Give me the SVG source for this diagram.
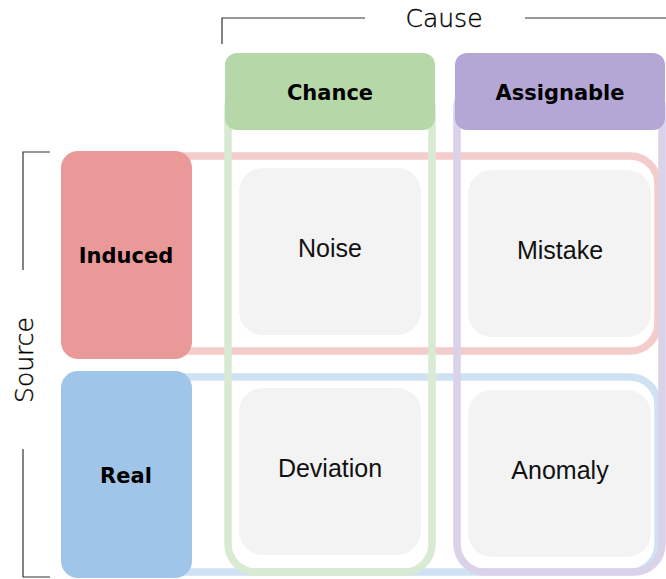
<svg xmlns="http://www.w3.org/2000/svg" width="666" height="579" viewBox="0 0 666 579">
<style>
.bracket{fill:none;stroke:#333;stroke-width:1.2}
.axis{font-family:"DejaVu Sans","Open Sans",sans-serif;font-weight:300;font-size:25px;fill:#000;stroke:#000;stroke-width:0.35;text-anchor:middle}
.hdr{font-family:"DejaVu Sans","Noto Sans",sans-serif;font-weight:bold;font-size:21px;fill:#000;text-anchor:middle}
.cell{fill:#f3f3f3}
.cellt{font-family:"Liberation Sans",Arial,sans-serif;font-size:25px;fill:#111;text-anchor:middle}
.ol{fill:none;stroke-width:7.5}
</style>
<rect width="666" height="579" fill="#ffffff"/>
<g id="axes">
  <path class="bracket" d="M222,44 V18 H365 M525,18 H666"/>
  <text class="axis" x="444" y="27">Cause</text>
  <path class="bracket" d="M50,152 H23 V270 M23,449 V577 H50"/>
  <text class="axis" transform="translate(33,360) rotate(-90)" x="0" y="0">Source</text>
</g>
<g id="connectors">
  <rect class="ol" x="110" y="156" width="548" height="195" rx="28" stroke="#f4cccc"/>
  <rect class="ol" x="110" y="377" width="548" height="195" rx="28" stroke="#cfe2f3"/>
  <rect class="ol" x="228" y="80" width="204" height="492" rx="28" stroke="#d9ead3"/>
  <rect class="ol" x="457" y="80" width="205" height="492" rx="28" stroke="#d9d2e9"/>
</g>
<g id="chance">
  <rect x="225" y="53" width="210" height="77" rx="12" fill="#b6d7a8"/>
  <text class="hdr" x="330" y="100">Chance</text>
</g>
<g id="assignable">
  <rect x="455" y="53" width="210" height="77" rx="12" fill="#b4a7d6"/>
  <text class="hdr" x="560" y="100">Assignable</text>
</g>
<g id="induced">
  <rect x="61" y="151" width="131" height="208" rx="17" fill="#ea9999"/>
  <text class="hdr" x="126" y="263">Induced</text>
</g>
<g id="real">
  <rect x="61" y="371" width="131" height="207" rx="17" fill="#9fc5e8"/>
  <text class="hdr" x="126" y="483">Real</text>
</g>
<g id="noise">
  <rect class="cell" x="239" y="168" width="182" height="167" rx="24"/>
  <text class="cellt" x="330" y="257">Noise</text>
</g>
<g id="mistake">
  <rect class="cell" x="468" y="170" width="183" height="167" rx="24"/>
  <text class="cellt" x="560" y="259">Mistake</text>
</g>
<g id="deviation">
  <rect class="cell" x="239" y="388" width="182" height="167" rx="24"/>
  <text class="cellt" x="330" y="477">Deviation</text>
</g>
<g id="anomaly">
  <rect class="cell" x="468" y="390" width="183" height="167" rx="24"/>
  <text class="cellt" x="560" y="479">Anomaly</text>
</g>
</svg>
